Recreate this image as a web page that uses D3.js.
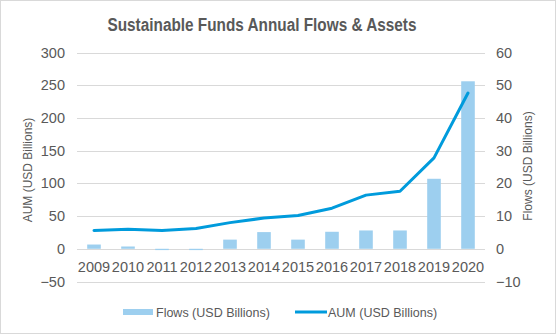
<!DOCTYPE html>
<html><head><meta charset="utf-8">
<script src="https://cdn.jsdelivr.net/npm/d3@7"></script>
<style>body{margin:0;background:#fff}svg{display:block}</style>
</head><body>
<script>
const years = ["2009","2010","2011","2012","2013","2014","2015","2016","2017","2018","2019","2020"];
const flows = [1.3, 0.7, -0.4, -0.4, 2.8, 5.1, 2.8, 5.2, 5.6, 5.6, 21.4, 51.2];
const aum = [28, 30, 28, 31, 40, 47, 51, 62, 82, 88, 139, 238];
const leftTicks = [-50, 0, 50, 100, 150, 200, 250, 300];
const rightTicks = [-10, 0, 10, 20, 30, 40, 50, 60];

const W = 556, H = 334;
const font = "'Liberation Sans', Arial, sans-serif";
const svg = d3.select("body").append("svg").attr("width", W).attr("height", H);
svg.append("rect").attr("x",0.5).attr("y",0.5).attr("width",W-1).attr("height",H-1)
  .attr("fill","#fff").attr("stroke","#d9d9d9");

const x = d3.scaleBand().domain(years).range([77, 485]).paddingInner(0.6).paddingOuter(0.3);
const yL = d3.scaleLinear().domain([-50, 300]).range([281.5, 52.5]);
const yR = d3.scaleLinear().domain([-10, 60]).range([281.5, 52.5]);

// gridlines
svg.append("g").selectAll("line").data(leftTicks).join("line")
  .attr("x1", 77).attr("x2", 485)
  .attr("y1", d => Math.round(yL(d)) + 0.5).attr("y2", d => Math.round(yL(d)) + 0.5)
  .attr("stroke", "#d9d9d9").attr("stroke-width", 1);

// left axis
const axL = svg.append("g").attr("transform", "translate(65,0)")
  .call(d3.axisLeft(yL).tickValues(leftTicks).tickSize(0).tickPadding(0));
axL.select(".domain").remove();
axL.selectAll("text").attr("font-family", font).attr("font-size", 14.5).attr("fill", "#595959");

// right axis
const axR = svg.append("g").attr("transform", "translate(496,0)")
  .call(d3.axisRight(yR).tickValues(rightTicks).tickSize(0).tickPadding(0));
axR.select(".domain").remove();
axR.selectAll("text").attr("font-family", font).attr("font-size", 14.5).attr("fill", "#595959");

// bars
svg.append("g").selectAll("rect").data(years).join("rect")
  .attr("x", d => x(d)).attr("width", x.bandwidth())
  .attr("y", (d,i) => Math.min(yR(flows[i]), yR(0)))
  .attr("height", (d,i) => Math.abs(yR(flows[i]) - yR(0)))
  .attr("fill", "#9dcfef");

// x labels
svg.append("g").selectAll("text").data(years).join("text")
  .attr("x", d => x(d) + x.bandwidth()/2).attr("y", 272)
  .attr("text-anchor", "middle").attr("font-family", font).attr("font-size", 14.5)
  .attr("fill", "#595959").text(d => d);

// line
const line = d3.line().x((d,i) => x(years[i]) + x.bandwidth()/2).y(d => yL(d));
svg.append("path").datum(aum).attr("d", line).attr("fill", "none")
  .attr("stroke", "#009bdc").attr("stroke-width", 3).attr("stroke-linejoin", "round").attr("stroke-linecap", "round");

// title
svg.append("text").attr("x", 262).attr("y", 31).attr("text-anchor", "middle")
  .attr("font-family", font)
  .attr("font-size", 18).attr("font-weight", "bold").attr("fill", "#595959")
  .attr("textLength", 309).attr("lengthAdjust", "spacingAndGlyphs")
  .text("Sustainable Funds Annual Flows & Assets");

// axis titles
svg.append("text").attr("transform", "translate(32,170) rotate(-90)").attr("text-anchor", "middle")
  .attr("font-family", font).attr("font-size", 12).attr("fill", "#595959").text("AUM (USD Billions)");
svg.append("text").attr("transform", "translate(532,166) rotate(-90)").attr("text-anchor", "middle")
  .attr("font-family", font).attr("font-size", 12).attr("fill", "#595959").text("Flows (USD Billions)");

// legend
const lg = svg.append("g");
lg.append("rect").attr("x", 123).attr("y", 309).attr("width", 30).attr("height", 6).attr("fill", "#9dcfef");
lg.append("text").attr("x", 156).attr("y", 316.5).attr("font-family", font).attr("font-size", 12.5)
  .attr("fill", "#595959").text("Flows (USD Billions)");
lg.append("line").attr("x1", 295).attr("x2", 327).attr("y1", 312).attr("y2", 312)
  .attr("stroke", "#009bdc").attr("stroke-width", 3);
lg.append("text").attr("x", 328).attr("y", 316.5).attr("font-family", font).attr("font-size", 12.5)
  .attr("fill", "#595959").text("AUM (USD Billions)");
</script>
</body></html>
